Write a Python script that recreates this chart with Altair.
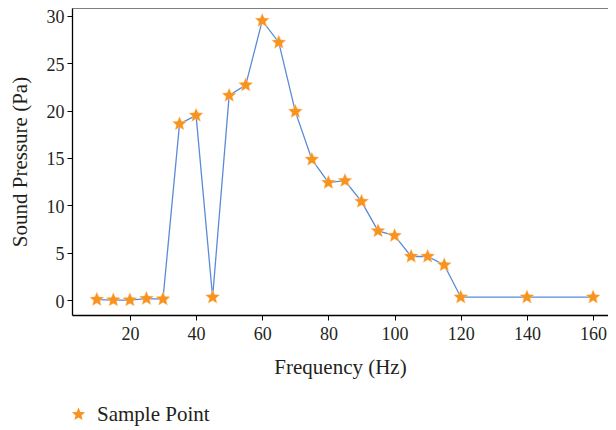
import altair as alt
import pandas as pd

freq = [10, 15, 20, 25, 30, 35, 40, 45, 50, 55, 60, 65, 70, 75, 80, 85, 90, 95,
        100, 105, 110, 115, 120, 140, 160]
pressure = [0.05, 0.0, 0.0, 0.15, 0.1, 18.6, 19.5, 0.3, 21.6, 22.7, 29.5, 27.2,
            19.9, 14.85, 12.4, 12.6, 10.4, 7.3, 6.8, 4.6, 4.6, 3.7, 0.3, 0.3, 0.3]
series = "Sample Point"
x_ticks = [20, 40, 60, 80, 100, 120, 140, 160]
y_ticks = [0, 5, 10, 15, 20, 25, 30]

df = pd.DataFrame({"f": freq, "p": pressure, "s": [series] * len(freq)})

STAR = ("M0,-1L0.2645,-0.364L0.951,-0.309L0.428,0.139L0.588,0.809L0,0.45"
        "L-0.588,0.809L-0.428,0.139L-0.951,-0.309L-0.2645,-0.364Z")
ORANGE = "#F7931E"
BLUE = "#5B8BD6"
TXT = "#231F20"
FONT = "Liberation Serif"

W, H = 536, 307

xs = alt.X("f:Q", scale=alt.Scale(domain=[2.5, 164.5], nice=False, zero=False),
           axis=alt.Axis(title="Frequency (Hz)", values=x_ticks, grid=False,
                         tickSize=5, labelPadding=5, titlePadding=13,
                         domainColor="black", tickColor="black", domainWidth=1.3))
ys = alt.Y("p:Q", scale=alt.Scale(domain=[-1.58, 30.84], nice=False, zero=False),
           axis=alt.Axis(title="Sound Pressure (Pa)", values=y_ticks, grid=False,
                         tickSize=5, labelPadding=3, titlePadding=16, labelOffset=2,
                         domainColor="black", tickColor="black", domainWidth=1.3))

base = alt.Chart(df)
line = base.mark_line(color=BLUE, strokeWidth=1.3).encode(x=xs, y=ys)
pts = base.mark_point(shape=STAR, filled=True, size=225, opacity=1,
                      stroke="#FFD9A8", strokeWidth=0.4).encode(
    x=xs, y=ys,
    color=alt.Color("s:N", scale=alt.Scale(range=[ORANGE]),
                    legend=alt.Legend(title=None, orient="none", legendX=-4,
                                      legendY=396, symbolType=STAR,
                                      symbolSize=190, labelFontSize=21,
                                      labelFont=FONT, labelColor=TXT,
                                      labelOffset=8, padding=0,
                                      symbolStrokeWidth=0)))
top = alt.Chart(pd.DataFrame({"a": [0]})).mark_rule(color="#555", strokeWidth=1.3).encode(
    x=alt.value(0), x2=alt.value(W + 10), y=alt.value(0))

chart = alt.layer(line, pts, top).properties(
    width=W, height=H,
    autosize=alt.AutoSizeParams(type="none"),
    padding={"left": 64, "top": 0, "right": 0, "bottom": 112},
).configure_view(stroke=None).configure_axis(
    labelFont=FONT, titleFont=FONT, labelFontSize=18, titleFontSize=21,
    labelColor=TXT, titleColor=TXT, titleFontWeight="normal",
)

chart.save("out.html", embed_options={"renderer": "svg", "actions": False})
